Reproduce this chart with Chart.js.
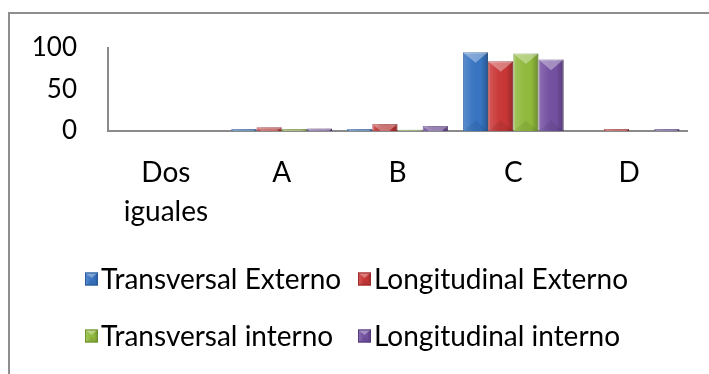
<!DOCTYPE html>
<html>
<head>
<meta charset="utf-8">
<script src="https://cdn.jsdelivr.net/npm/chart.js@4.4.1/dist/chart.umd.min.js"></script>
<style>
  html, body { margin: 0; padding: 0; background: #ffffff; }
  #wrap { position: relative; width: 709px; height: 374px; }
</style>
</head>
<body>
<div id="wrap"><canvas id="chart" width="709" height="374"></canvas></div>
<script>
// Categories and series (percent)
const categories = [['Dos', 'iguales'], 'A', 'B', 'C', 'D'];
const seriesNames = ['Transversal Externo', 'Longitudinal Externo', 'Transversal interno', 'Longitudinal interno'];
const transversalExterno  = [0, 2.5, 2.5, 95, 0];
const longitudinalExterno = [0, 4.5, 8.5, 84, 2.5];
const transversalInterno  = [0, 2.5, 1.5, 93.5, 0];
const longitudinalInterno = [0, 3, 6, 86, 2.5];
const yTicks = [0, 50, 100];

const colors = ['#3774c2', '#c93737', '#90ba3c', '#7350a1'];
const borders = ['#2a5c9c', '#9e2b2b', '#6f9230', '#563a7e'];
const FONT = 'Lato, "Open Sans", sans-serif';

// Bevelled "3D" look for a rectangle
function shadeBox(ctx, left, top, right, bottom) {
  const w = right - left, h = bottom - top;
  if (w <= 0 || h <= 0.2) return;
  ctx.save();
  ctx.beginPath();
  ctx.rect(left, top, w, h);
  ctx.clip();
  const g = ctx.createLinearGradient(left, 0, right, 0);
  g.addColorStop(0, 'rgba(255,255,255,0.18)');
  g.addColorStop(0.35, 'rgba(255,255,255,0.04)');
  g.addColorStop(0.7, 'rgba(0,0,0,0.0)');
  g.addColorStop(1, 'rgba(0,0,0,0.25)');
  ctx.fillStyle = g;
  ctx.fillRect(left, top, w, h);
  const d = w * 0.42;
  // top bevel
  ctx.beginPath();
  ctx.moveTo(left, top);
  ctx.lineTo(right, top);
  ctx.lineTo(left + w / 2, top + d);
  ctx.closePath();
  ctx.fillStyle = 'rgba(255,255,255,0.35)';
  ctx.fill();
  // faint bottom bevel
  ctx.beginPath();
  ctx.moveTo(left, bottom);
  ctx.lineTo(right, bottom);
  ctx.lineTo(left + w / 2, bottom - d);
  ctx.closePath();
  ctx.fillStyle = 'rgba(0,0,0,0.07)';
  ctx.fill();
  ctx.restore();
}

const bevelPlugin = {
  id: 'bevel',
  afterDatasetsDraw(chart) {
    const ctx = chart.ctx;
    chart.data.datasets.forEach((ds, i) => {
      const meta = chart.getDatasetMeta(i);
      meta.data.forEach(el => {
        const p = el.getProps(['x', 'y', 'base', 'width'], true);
        shadeBox(ctx, p.x - p.width / 2, Math.min(p.y, p.base), p.x + p.width / 2, Math.max(p.y, p.base));
      });
    });
  }
};

// Outer frame and two-column legend
const framePlugin = {
  id: 'frame',
  beforeDraw(chart) {
    const ctx = chart.ctx;
    ctx.save();
    ctx.strokeStyle = '#8e8e8e';
    ctx.lineWidth = 2;
    ctx.beginPath();
    ctx.moveTo(9, 374);
    ctx.lineTo(9, 13);
    ctx.lineTo(709, 13);
    ctx.stroke();
    ctx.restore();
  },
  afterDraw(chart) {
    const ctx = chart.ctx;
    const colX = [85, 358];
    const rowY = [279, 336];
    const box = 13;
    ctx.save();
    ctx.font = '28px ' + FONT;
    ctx.textBaseline = 'middle';
    ctx.textAlign = 'left';
    chart.data.datasets.forEach((ds, i) => {
      const x = colX[i % 2], y = rowY[Math.floor(i / 2)];
      ctx.fillStyle = colors[i];
      ctx.fillRect(x, y - box / 2, box, box);
      shadeBox(ctx, x, y - box / 2, x + box, y + box / 2);
      ctx.strokeStyle = borders[i];
      ctx.lineWidth = 1;
      ctx.strokeRect(x + 0.5, y - box / 2 + 0.5, box - 1, box - 1);
      ctx.fillStyle = '#000000';
      ctx.fillText(ds.label, x + box + 3, y + 1);
    });
    ctx.restore();
  }
};

const seriesData = [transversalExterno, longitudinalExterno, transversalInterno, longitudinalInterno];

new Chart(document.getElementById('chart'), {
  type: 'bar',
  data: {
    labels: categories,
    datasets: seriesData.map((d, i) => ({
      label: seriesNames[i],
      data: d,
      backgroundColor: colors[i],
      borderColor: borders[i],
      borderWidth: 1,
      categoryPercentage: 0.87,
      barPercentage: 1.0
    }))
  },
  options: {
    responsive: false,
    animation: false,
    devicePixelRatio: 1,
    layout: { padding: { top: 48, right: 22, bottom: 0, left: 0 } },
    plugins: {
      legend: { display: false },
      tooltip: { enabled: false }
    },
    scales: {
      x: {
        grid: { display: false, drawTicks: false },
        border: { display: true, color: '#8a8a8a', width: 2 },
        ticks: { color: '#000000', font: { family: FONT, size: 28, lineHeight: 1.4 }, padding: 22, maxRotation: 0, autoSkip: false },
        afterFit(s) { s.height = 243; }
      },
      y: {
        min: 0,
        max: 100,
        grid: { display: false, drawTicks: false },
        border: { display: true, color: '#8a8a8a', width: 2 },
        afterBuildTicks(s) { s.ticks = yTicks.map(v => ({ value: v })); },
        ticks: { color: '#000000', font: { family: FONT, size: 26 }, padding: 31 },
        afterFit(s) { s.width = 108; }
      }
    }
  },
  plugins: [framePlugin, bevelPlugin]
});
</script>
</body>
</html>
